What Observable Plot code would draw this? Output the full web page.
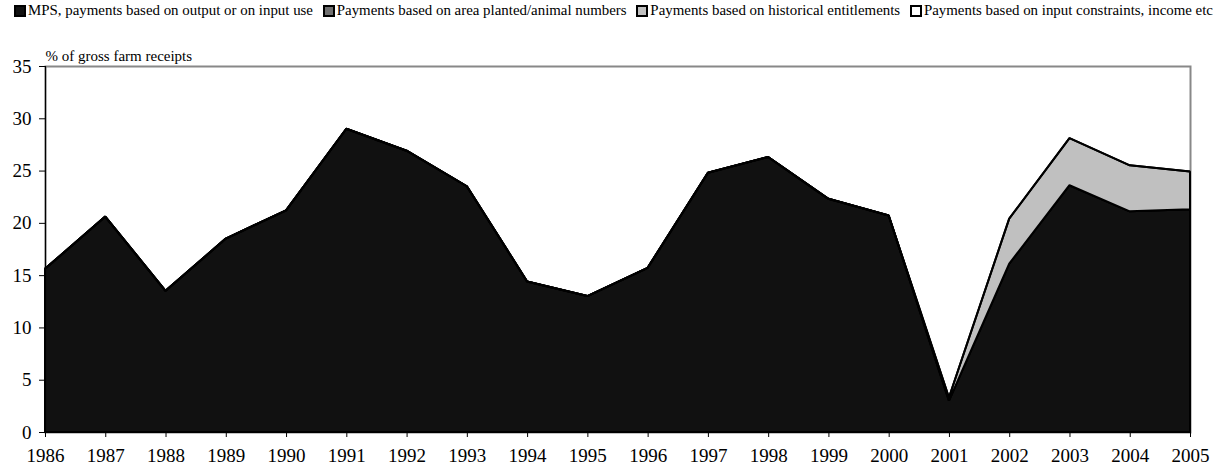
<!DOCTYPE html>
<html>
<head>
<meta charset="utf-8">
<script src="https://cdn.jsdelivr.net/npm/d3@7"></script>
<script src="https://cdn.jsdelivr.net/npm/@observablehq/plot@0.6"></script>
<style>
  body { margin: 0; background: #fff; font-family: "Liberation Serif", "Times New Roman", serif; }
  #legend { height: 24px; display: flex; justify-content: space-between; align-items: center; font-family: "Liberation Serif", "Times New Roman", serif; font-size: 14.9px; color: #000; padding-left: 14px; padding-right: 7px; padding-bottom: 3px; box-sizing: border-box; white-space: nowrap; }
  #legend span.item { display: inline-flex; align-items: center; }
  #legend span.sw { display: inline-block; width: 8px; height: 8px; border: 2px solid #000; margin-right: 2px; }
  #chart svg { display: block; }
</style>
</head>
<body>
<div id="legend"></div>
<div id="chart"></div>
<script>
const years = [1986,1987,1988,1989,1990,1991,1992,1993,1994,1995,1996,1997,1998,1999,2000,2001,2002,2003,2004,2005];
const mps = [15.6,20.6,13.5,18.5,21.2,29.0,26.9,23.5,14.4,13.0,15.7,24.8,26.3,22.3,20.7,3.0,16.1,23.6,21.1,21.3];
const areaPlanted = [0,0,0,0,0,0,0,0,0,0,0,0,0,0,0,0,0,0,0,0];
const historical = [0,0,0,0,0,0,0,0,0,0,0,0,0,0,0,0.3,4.3,4.5,4.4,3.6];
const inputConstraints = [0,0,0,0,0,0,0,0,0,0,0,0,0,0,0,0,0,0,0,0];
const seriesNames = [
  "MPS, payments based on output or on input use",
  "Payments based on area planted/animal numbers",
  "Payments based on historical entitlements",
  "Payments based on input constraints, income etc"
];
const seriesColors = ["#111111", "#707070", "#c0c0c0", "#ffffff"];
const yTicks = [0,5,10,15,20,25,30,35];
const yLabel = "% of gross farm receipts";

const seriesValues = [mps, areaPlanted, historical, inputConstraints];
const data = [];
seriesNames.forEach((s, i) => years.forEach((yr, j) => data.push({year: yr, series: s, value: seriesValues[i][j]})));

const legend = document.getElementById("legend");
seriesNames.forEach((s, i) => {
  const it = document.createElement("span");
  it.className = "item";
  const sw = document.createElement("span");
  sw.className = "sw";
  sw.style.background = seriesColors[i];
  it.appendChild(sw);
  it.appendChild(document.createTextNode(s));
  legend.appendChild(it);
});

const font = "Liberation Serif, Times New Roman, serif";
const chart = Plot.plot({
  width: 1220,
  height: 445,
  marginLeft: 45,
  marginRight: 30,
  marginTop: 42,
  marginBottom: 37,
  style: { fontFamily: font, fontSize: "19px", color: "#000", background: "#fff" },
  x: { domain: [1986, 2005], label: null },
  y: { domain: [0, 35], label: null },
  color: { domain: seriesNames, range: seriesColors },
  marks: [
    Plot.frame({ stroke: "#888", strokeWidth: 2 }),
    Plot.areaY(data, Plot.stackY({ x: "year", y: "value", z: "series", fill: "series", stroke: "#000", strokeWidth: 2, strokeLinejoin: "miter" })),
    Plot.ruleX([1986], { stroke: "#000", strokeWidth: 1.2 }),
    Plot.ruleY([0], { stroke: "#000", strokeWidth: 1.2 }),
    Plot.axisX({ ticks: years, tickFormat: d3.format("d"), tickSize: 5, tickPadding: 11, fontSize: 19, label: null }),
    Plot.axisY({ ticks: yTicks, tickSize: 6, tickPadding: 8, fontSize: 19, label: null }),
    Plot.text([yLabel], { frameAnchor: "top-left", dy: -16, dx: 0, text: d => d, fontSize: 15, textAnchor: "start" })
  ]
});
document.getElementById("chart").appendChild(chart);
</script>
</body>
</html>
